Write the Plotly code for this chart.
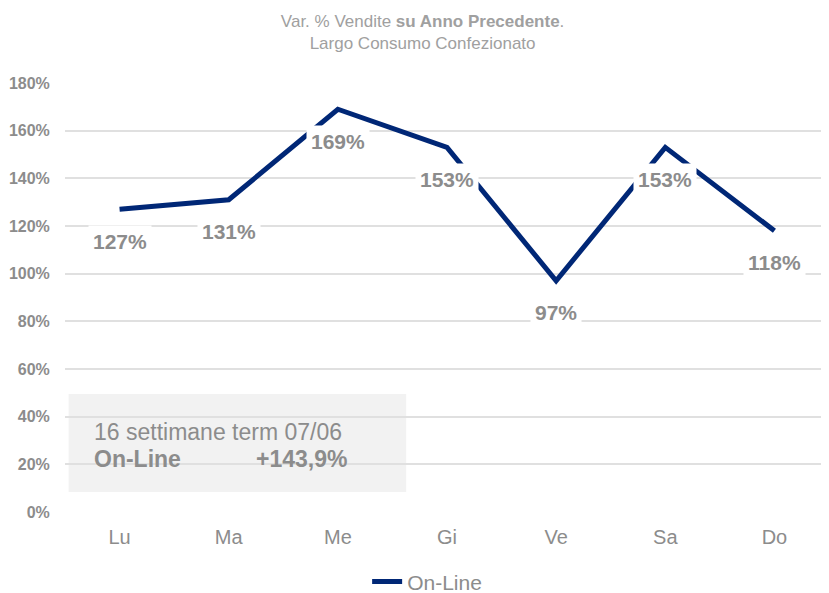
import plotly.graph_objects as go

# data
days = ["Lu", "Ma", "Me", "Gi", "Ve", "Sa", "Do"]
online = [127, 131, 169, 153, 97, 153, 118]
y_ticks = [0, 20, 40, 60, 80, 100, 120, 140, 160, 180]
box_line1 = "16 settimane term 07/06"
box_label = "On-Line"
box_value = "+143,9%"

grey = "#8c8c8c"
navy = "#002776"

fig = go.Figure()
fig.add_trace(go.Scatter(
    x=days, y=online, mode="lines", name="On-Line",
    line=dict(color=navy, width=5),
))

# data labels below the points, white background
for d, v in zip(days, online):
    fig.add_annotation(
        x=d, y=v, text=f"<b>{v}%</b>", showarrow=False, yshift=-32,
        font=dict(size=21, color=grey),
        bgcolor="white", borderpad=4,
    )

# summary box
fig.add_shape(type="rect", xref="x", yref="y", x0=-0.467, x1=2.626, y0=8.4, y1=49.5,
              fillcolor="#f2f2f2", line=dict(width=0), layer="below")
fig.add_annotation(x=-0.256, y=33.6, xref="x", yref="y", xanchor="left", showarrow=False,
                   text=box_line1, font=dict(size=23, color=grey))
fig.add_annotation(x=-0.256, y=22.2, xref="x", yref="y", xanchor="left", showarrow=False,
                   text=f"<b>{box_label}</b>", font=dict(size=23, color=grey))
fig.add_annotation(x=2.104, y=22.2, xref="x", yref="y", xanchor="right", showarrow=False,
                   text=f"<b>{box_value}</b>", font=dict(size=23, color=grey))

fig.update_layout(
    width=821, height=585,
    margin=dict(l=57, r=0, t=75, b=81, autoexpand=False),
    paper_bgcolor="white", plot_bgcolor="white",
    font=dict(family="Liberation Sans, Arial", color=grey),
    title=dict(
        text="Var. % Vendite <b>su Anno Precedente</b>.<br>Largo Consumo Confezionato",
        x=0.505, xref="container", xanchor="center", y=0.968, yanchor="top",
        font=dict(size=17, color="#a0a0a0"),
    ),
    showlegend=True,
    legend=dict(orientation="h", x=0.474, xanchor="center",
                y=-0.163, yanchor="middle", font=dict(size=21, color=grey)),
)
fig.update_xaxes(
    range=[-0.5, 6.5], showgrid=False, showline=False, zeroline=False,
    ticks="outside", ticklen=7, tickcolor="white",
    tickfont=dict(size=20, color=grey),
)
fig.update_yaxes(
    range=[0, 180], tickvals=y_ticks, ticktext=[f"<b>{t}%</b>" for t in y_ticks],
    showgrid=True, gridcolor="#e0e0e0", gridwidth=1.5, zeroline=False,
    ticks="outside", ticklen=11, tickcolor="white",
    tickfont=dict(size=16, color=grey),
)

fig.write_html("out.html")
